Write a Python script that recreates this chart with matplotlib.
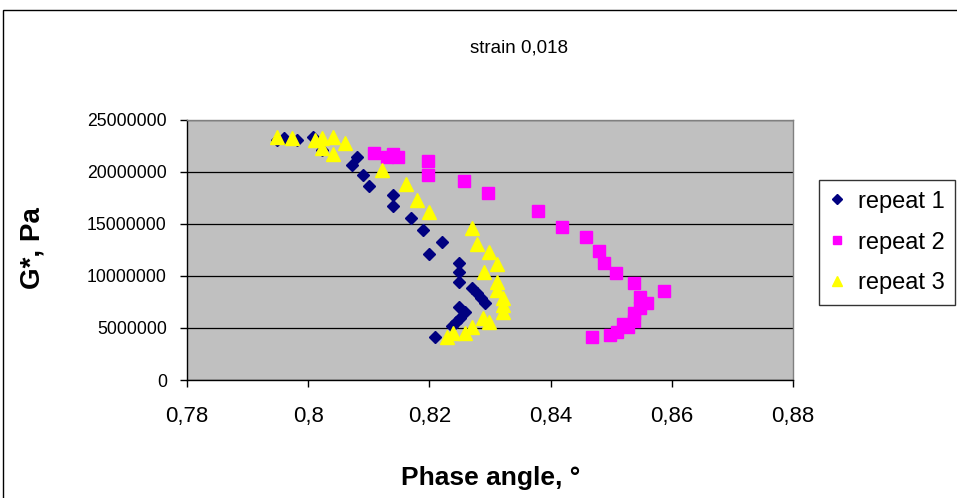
import matplotlib
matplotlib.use("Agg")
import matplotlib.pyplot as plt
from matplotlib.patches import Rectangle

plt.rcParams["font.family"] = ["Liberation Sans", "DejaVu Sans"]

# data (phase angle, G* in Pa)
r1_phase = [0.7949, 0.7960, 0.7982, 0.8008, 0.8023, 0.8081, 0.8072, 0.8090,
            0.8100, 0.8140, 0.8140, 0.8170, 0.8189, 0.8221, 0.8199, 0.8249,
            0.8249, 0.8249, 0.8270, 0.8278, 0.8285, 0.8292, 0.8249, 0.8259,
            0.8250, 0.8244, 0.8237, 0.8209]
r1_g = [23.1e6, 23.3e6, 23.1e6, 23.4e6, 22.1e6, 21.4e6, 20.7e6, 19.7e6,
        18.7e6, 17.8e6, 16.7e6, 15.6e6, 14.4e6, 13.3e6, 12.1e6, 11.25e6,
        10.4e6, 9.4e6, 8.85e6, 8.4e6, 7.9e6, 7.4e6, 7.0e6, 6.5e6,
        6.0e6, 5.6e6, 5.2e6, 4.1e6]

r2_phase = [0.8109, 0.8130, 0.8140, 0.8148, 0.8198, 0.8198, 0.8257, 0.8297,
            0.8379, 0.8419, 0.8458, 0.8480, 0.8488, 0.8508, 0.8538, 0.8587,
            0.8548, 0.8559, 0.8548, 0.8538, 0.8538, 0.8519, 0.8528, 0.8510,
            0.8498, 0.8468]
r2_g = [21.8e6, 21.4e6, 21.7e6, 21.4e6, 21.1e6, 19.7e6, 19.1e6, 18.0e6,
        16.25e6, 14.7e6, 13.75e6, 12.4e6, 11.25e6, 10.3e6, 9.3e6, 8.55e6,
        8.0e6, 7.4e6, 6.9e6, 6.45e6, 5.7e6, 5.4e6, 5.1e6, 4.6e6,
        4.3e6, 4.1e6]

r3_phase = [0.7949, 0.7973, 0.8011, 0.8023, 0.8041, 0.8023, 0.8061, 0.8041,
            0.8122, 0.8161, 0.8180, 0.8199, 0.8270, 0.8279, 0.8298, 0.8312,
            0.8290, 0.8312, 0.8312, 0.8321, 0.8321, 0.8321, 0.8288, 0.8298,
            0.8270, 0.8259, 0.8239, 0.8229]
r3_g = [23.4e6, 23.3e6, 23.1e6, 23.3e6, 23.4e6, 22.3e6, 22.8e6, 21.7e6,
        20.2e6, 18.8e6, 17.3e6, 16.2e6, 14.6e6, 13.1e6, 12.3e6, 11.15e6,
        10.4e6, 9.4e6, 8.65e6, 7.9e6, 7.2e6, 6.55e6, 5.95e6, 5.6e6,
        5.1e6, 4.5e6, 4.5e6, 4.1e6]

series_names = ["repeat 1", "repeat 2", "repeat 3"]
x_ticks = [0.78, 0.80, 0.82, 0.84, 0.86, 0.88]
x_tick_labels = ["0,78", "0,8", "0,82", "0,84", "0,86", "0,88"]
y_ticks = [0, 5000000, 10000000, 15000000, 20000000, 25000000]
y_tick_labels = ["0", "5000000", "10000000", "15000000", "20000000", "25000000"]

W, H = 957, 498
fig = plt.figure(figsize=(W / 100, H / 100), dpi=100)
fig.patch.set_facecolor("white")

# outer chart-area frame (runs off the right and bottom edges)
fig.patches.append(Rectangle((3 / W, -0.1), 1.2, 1.1 - 10 / H,
                             transform=fig.transFigure, fill=False,
                             edgecolor="black", linewidth=1.0))

ax = fig.add_axes([187 / W, (H - 380) / H, (793 - 187) / W, 260 / H])
ax.set_facecolor("#c0c0c0")

ax.plot(r1_phase, r1_g, ls="none", marker="D", ms=6.5, color="#000080",
        mec="#000080", label=series_names[0], zorder=3)
ax.plot(r2_phase, r2_g, ls="none", marker="s", ms=8.3, color="#ff00ff",
        mec="#ff00ff", label=series_names[1], zorder=3)
ax.plot(r3_phase, r3_g, ls="none", marker="^", ms=9.8, color="#ffff00",
        mec="#ffff00", label=series_names[2], zorder=3)

ax.set_xlim(0.78, 0.88)
ax.set_ylim(0, 25000000)
ax.set_xticks(x_ticks)
ax.set_xticklabels(x_tick_labels, fontsize=16)
ax.set_yticks(y_ticks)
ax.set_yticklabels(y_tick_labels, fontsize=12.7)
ax.tick_params(axis="both", direction="out", length=5, width=1,
               colors="black")
ax.tick_params(axis="x", pad=14)
ax.tick_params(axis="y", pad=9.5)

ax.grid(axis="y", color="black", linewidth=0.9)
ax.set_axisbelow(True)
for side in ("left", "bottom"):
    ax.spines[side].set_color("black")
    ax.spines[side].set_linewidth(1.0)
for side in ("top", "right"):
    ax.spines[side].set_color("#808080")
    ax.spines[side].set_linewidth(1.0)

fig.text(519 / W, 1 - 48 / H, "strain 0,018", ha="center", va="center",
         fontsize=13.5)
fig.text(32 / W, 1 - 248 / H, "G*, Pa", ha="center", va="center",
         rotation=90, fontsize=20, fontweight="bold")
fig.text(491 / W, 1 - 478 / H, "Phase angle, °", ha="center", va="center",
         fontsize=19, fontweight="bold")

leg = fig.legend(loc="upper left", bbox_to_anchor=(819 / W, 1 - 180 / H),
                 frameon=True, fancybox=False, fontsize=17,
                 handlelength=0.6, handletextpad=0.6, labelspacing=0.8,
                 borderpad=0.45, markerscale=0.75, borderaxespad=0)
leg.get_frame().set_edgecolor("black")
leg.get_frame().set_linewidth(1.0)

fig.savefig("out.png", dpi=100, facecolor="white")
